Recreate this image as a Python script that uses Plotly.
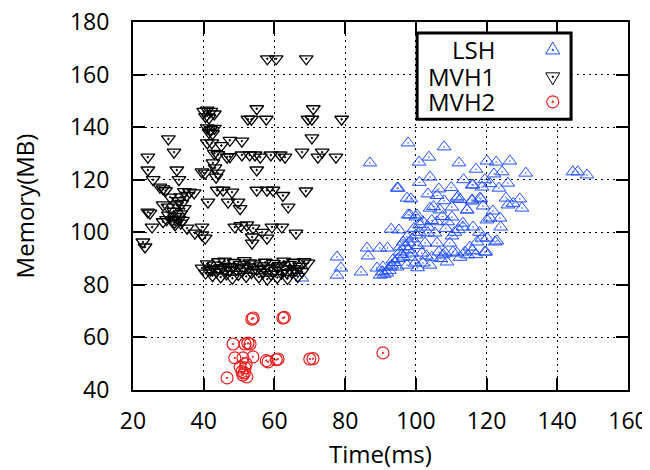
import plotly.graph_objects as go

# ---------------- data ----------------
lsh_x = [97.8,108,87,100.9,103.7,112.2,104,95,106.5,103.4,98.6,115.9,97.8,100,93,95.2,
         86.2,89.8,92,86.5,77.7,78.8,77.7,84.5,120.1,122.7,126.6,131.1,122.1,124.4,144.4,145.8,148.4,
         116.2,118.7,123.5,126,111.9,115.9,118.4,126,129.4,130,110.2,114.5,110.2,121.8,121,123.8,120.1,
         113.3,116.2,110.2,117.3,120.1,122.9,119.8,107.7,111.6,114.7,108.8,89,90.7,89.9,
         99.8,102,98.9,101.7,102.6,106,103.4,105.4,109.6,113.3,108.3,110.5,113.9,115.3,118.7,119.5,122.4,
         104,105,106.8,111.6,112.5,114.5,115.9,118.1,98.3,100.3,97.5,94.7,
         95.5,96.4,97.5,95.5,93.5,92.7,91.8,96.4,97.8,98.5,94.7,67.8,
         90.5,91,92.5,93.2,94,95,96,97,98,99,100,101,99.5,101,102,100.5,103.5,104.5,106,107.5,108.5,109,
         111,112,106.5,104.5,103,107,112.5,117,116,118,124,119,108,106,110,113.5,101,117,119.5,121,125.5,
         127.5,104,100.5,97.5]
lsh_y = [134,132.5,126.4,126.7,128.6,126.4,121,116.8,116.5,114.6,112.7,118,106.6,105.8,101.2,100.9,
         94,94,94,91,90.6,86.4,83.7,84.9,127.1,126.7,127.1,122.5,122.2,123,123,123,121.8,
         118,117.2,116.8,118.7,113.5,111.9,112.7,110.4,112.7,109.2,109.6,108.5,105.8,108.1,105.4,105.4,104.7,
         103.5,102,98.6,96.3,97.8,96.7,92.5,91.4,92.1,91.4,88.7,86.4,86.8,83.7,
         88.3,88.3,92.1,92.1,95.9,95.9,99.7,99.7,95.9,102,92.1,92.5,92.5,94.4,97.8,92.5,96.3,
         109.2,109.8,108.5,113,112.5,108.5,112.3,113,106.6,106.6,113,116.8,
         94.4,96.3,98.2,92.5,89.5,86.8,84.5,90.6,93.3,90.5,86.8,82.6,
         85,84,85.5,87.5,88.5,90,91.5,94.5,96,97.5,99,100,101.5,103,104,95,102,104.5,104,106,101.5,104,
         100,101,92.5,90.5,91,90,90.5,91.5,93,100,102,110,112,114,117,120,119,124,120,118.5,113,
         111,87.5,86.5,87.5]

mvh1_x = [58,60.5,69,40,41,42,40.5,41.5,43,55,52.5,53.5,57.7,71,69.5,70.6,79,
          41,42,41.5,42.5,43,30,31.6,24.2,24.2,32.4,25.7,27.6,28.5,29.2,33,
          30.5,32.4,31.5,32,33,31,33.5,34.5,32.8,33.8,30,29.5,31.8,34,24.2,
          41,42.3,45,47.4,50.8,43,44,46.6,47.4,50.8,53,54.5,56,59,61.6,63,67.8,72.3,73.5,77.4,70.6,
          42.6,43.2,39.5,40.4,44,43.5,55,55,57.9,59.6,62.4,63.9,68.9,36,34.5,37.3,33.5,35.2,41.2,
          43.8,45.5,48,46.9,49.7,50.3,24.8,25.4,22.8,23.4,28.5,31.9,33.5,35.3,37.5,39.5,40.4,39.5,
          48.8,50.5,52.2,54,53.7,53.7,56.5,57.9,59.3,62.1,66.1,28.5,29.9,
          39.5,40.5,41,41.8,42.5,43,43.6,44.2,44.8,45.3,45.9,46.4,47,47.5,48.1,48.6,49.2,49.8,50.3,50.9,
          51.5,52,52.8,53.5,54.2,55,55.6,56.2,56.8,57.4,58,58.5,59.1,59.7,60.2,60.8,61.4,62,62.6,63.1,
          63.7,64.3,64.9,65.4,66,66.6,67.2,67.8,68.4,69.5,44,46,48,51,53,57,61,63.5,65.5,42]
mvh1_y = [166,166,166,146,146.5,146,144,143.5,145,147,143,143,143,147,143,143,143,
          139.7,139,138,137.5,139.5,135.5,130.5,128.6,123.7,123.7,120,117.2,116.5,115.8,120,
          113.4,110.4,108,106,105,104.5,107,109,112,111,106.5,104.8,103.8,104.5,107.7,
          134,134,133,135,134.7,130,129.5,128.6,128.8,129.4,129.4,129.4,128.6,129.4,129.4,128.6,130.5,128.6,130.5,128.6,135.9,
          126.4,124.5,123,122.5,122.5,121,123.7,116,116,116,114,109.6,115.7,115.3,115.5,115,113.5,114,111.5,
          116,116,115.3,111.5,111.5,109,107.3,102,96.3,94.4,104,102.8,103.5,101.6,99.7,102,97.8,99,
          102,102.5,102.8,101.6,98.2,95.9,100,97.8,102,102,99.7,110.4,109.6,
          86.4,84.5,88,86,83.5,87.5,85,88.8,83,86.5,89,84.2,87,85.5,82.5,88.5,86,84,87.8,85.2,
          89.2,83.2,86.8,84.6,88,85.8,83,87.2,84.8,88.6,82.2,86.2,84,88.2,85.4,82.8,87.4,84.4,89,86,
          82.4,87.8,84.8,88.6,85.6,83.2,87,85,88.8,88.3,86,85.8,86.8,86.4,88.4,86.4,86.8,84.6,86.2,85.6]

mvh2_x = [53.6,54,62.4,62.8,48.3,51.7,52.5,53.1,48.8,51.1,53.9,58.2,57.7,61,60.5,70,70.9,
          50.3,51.7,51.1,52.2,46.6,50.8,52,51.5,90.7]
mvh2_y = [67,67.4,67.4,67.6,57.5,57.5,57.8,57.5,52.2,52.2,52.6,50.7,51.2,51.8,51.5,51.8,51.9,
          48.8,48.4,45.7,45,44.6,47,50,46.5,54.1]

series_names = ["LSH", "MVH1", "MVH2"]
x_ticks = [20, 40, 60, 80, 100, 120, 140, 160]
y_ticks = [40, 60, 80, 100, 120, 140, 160, 180]

# ---------------- style ----------------
BLUE = "#1f4fff"
BLACK = "#000000"
RED = "#ee1c1c"
FONT = "Open Sans"

fig = go.Figure()
fig.add_trace(go.Scatter(x=lsh_x, y=lsh_y, mode="markers", name=series_names[0],
                         marker=dict(symbol="triangle-up-open-dot", size=12, color=BLUE,
                                     line=dict(width=1, color=BLUE))))
fig.add_trace(go.Scatter(x=mvh1_x, y=mvh1_y, mode="markers", name=series_names[1],
                         marker=dict(symbol="triangle-down-open-dot", size=12, color=BLACK,
                                     line=dict(width=1.3, color=BLACK))))
fig.add_trace(go.Scatter(x=mvh2_x, y=mvh2_y, mode="markers", name=series_names[2],
                         marker=dict(symbol="circle-open-dot", size=12, color=RED,
                                     line=dict(width=1.2, color=RED))))

axis_common = dict(showline=True, linewidth=2, linecolor="black", mirror="allticks",
                   ticks="inside", ticklen=12, tickwidth=2, tickcolor="black",
                   showgrid=True, gridcolor="black", gridwidth=1, griddash="2px,4px",
                   zeroline=False, automargin=False, ticklabeloverflow="allow",
                   tickfont=dict(family=FONT, size=23, color="black"))

fig.update_xaxes(range=[x_ticks[0], x_ticks[-1]], tickvals=x_ticks, ticklabelstandoff=9,
                 title=dict(text="Time(ms)", font=dict(family=FONT, size=24, color="black"),
                            standoff=12),
                 **axis_common)
fig.update_yaxes(range=[y_ticks[0], y_ticks[-1]], tickvals=y_ticks, ticklabelstandoff=17,
                 title=dict(text="Memory(MB)", font=dict(family=FONT, size=24, color="black"),
                            standoff=35),
                 **axis_common)

# ---------------- custom gnuplot-like legend ----------------
shapes = [dict(type="rect", xref="paper", yref="paper", x0=0.574, x1=0.885, y0=0.736, y1=0.970,
               line=dict(color="black", width=3), fillcolor="white", layer="above")]
leg_y = [0.924, 0.851, 0.783]
leg_x = 0.848
paths = ["M -7,-4 L 7,-4 L 0,8 Z", "M -7,4 L 7,4 L 0,-8 Z", None]
colors = [BLUE, BLACK, RED]
annotations = []
for name, yy, p, c in zip(series_names, leg_y, paths, colors):
    annotations.append(dict(text=name, xref="paper", yref="paper", x=0.735, y=yy,
                            xanchor="right", yanchor="middle", showarrow=False,
                            font=dict(family=FONT, size=24, color="black")))
    if p:
        shapes.append(dict(type="path", xref="paper", yref="paper", xsizemode="pixel",
                           ysizemode="pixel", xanchor=leg_x, yanchor=yy, path=p,
                           line=dict(color=c, width=1), layer="above"))
    else:
        shapes.append(dict(type="circle", xref="paper", yref="paper", xsizemode="pixel",
                           ysizemode="pixel", xanchor=leg_x, yanchor=yy, x0=-6, x1=6, y0=-6, y1=6,
                           line=dict(color=c, width=1.2), layer="above"))
    shapes.append(dict(type="circle", xref="paper", yref="paper", xsizemode="pixel",
                       ysizemode="pixel", xanchor=leg_x, yanchor=yy, x0=-0.8, x1=0.8, y0=-0.8, y1=0.8,
                       line=dict(color=c, width=1), fillcolor=c, layer="above"))

# the page body has an 8px margin, so the figure is sized and offset to fit 650x470
fig.update_layout(width=642, height=462, margin=dict(l=125, r=22, t=14, b=80),
                  plot_bgcolor="white", paper_bgcolor="white", showlegend=False,
                  shapes=shapes, annotations=annotations,
                  font=dict(family=FONT, color="black"))

fig.write_html("out.html")
